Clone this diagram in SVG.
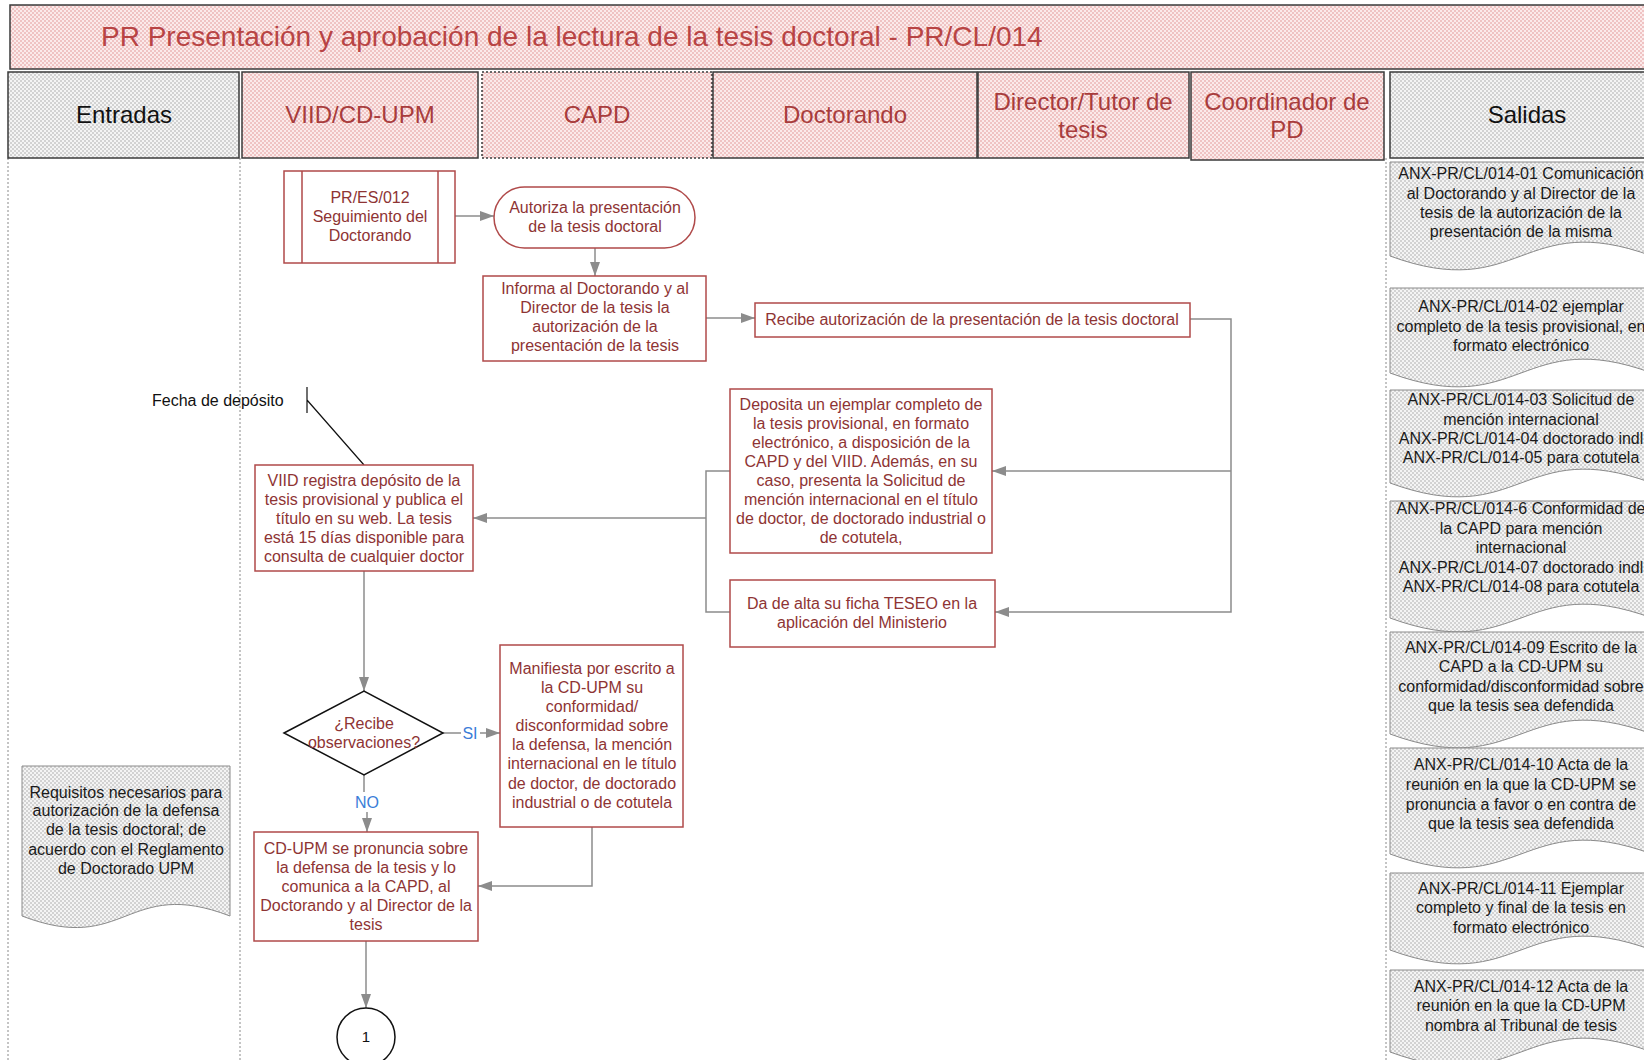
<svg xmlns="http://www.w3.org/2000/svg" width="1644" height="1060" viewBox="0 0 1644 1060">
<style>
text{font-family:"Liberation Sans",Arial,sans-serif}
.t{font-size:16px;fill:#8e3434;text-anchor:middle}
.d{font-size:16px;fill:#1a1a1a;text-anchor:middle}
.h{font-size:24px;fill:#a83c3c;text-anchor:middle}
.hk{font-size:24px;fill:#111;text-anchor:middle}
.box{fill:#fff;stroke:#b04a4a;stroke-width:1.5}
.doc{fill:url(#gr);stroke:#8a8a8a;stroke-width:1}
.hp{fill:url(#pk);stroke:#3a3a3a;stroke-width:1.5}
.hg{fill:url(#gr);stroke:#3a3a3a;stroke-width:1.5}
.lane{stroke:#8a8a8a;stroke-width:1;stroke-dasharray:2 2;fill:none}
.c{fill:none;stroke:#8c8c8c;stroke-width:1.5}
.lbl{font-size:16px;fill:#3b7dd8;text-anchor:middle}
</style>
<defs>
<pattern id="pk" width="4" height="4" patternUnits="userSpaceOnUse"><rect width="4" height="4" fill="#fbeaea"/><rect width="2" height="2" fill="#efc3c3"/><rect x="2" y="2" width="2" height="2" fill="#efc3c3"/></pattern>
<pattern id="gr" width="4" height="4" patternUnits="userSpaceOnUse"><rect width="4" height="4" fill="#f4f4f4"/><rect width="2" height="2" fill="#d2d2d2"/><rect x="2" y="2" width="2" height="2" fill="#d2d2d2"/></pattern>
<marker id="ar" markerUnits="userSpaceOnUse" markerWidth="15" markerHeight="11" refX="14" refY="5" orient="auto"><path d="M0,0 L14,5 L0,10 z" fill="#8c8c8c"/></marker>
</defs>
<rect width="1644" height="1060" fill="#fff"/>
<g id="title"><rect x="10" y="5" width="1640" height="64" class="hp" stroke-width="2"/><text x="101" y="46" font-size="28" fill="#b84444">PR Presentación y aprobación de la lectura de la tesis doctoral - PR/CL/014</text></g>
<g id="lanes">
<path class="lane" d="M8,158 V1060 M240,158 V1060 M1386,158 V1060"/>
</g>
<g id="headers">
<g id="h-entradas"><rect x="8" y="72" width="231" height="86" class="hg"/><text x="124" y="123" class="hk">Entradas</text></g>
<g id="h-viid"><rect x="242" y="72" width="236" height="86" class="hp" stroke="#555"/><text x="360" y="123" class="h">VIID/CD-UPM</text></g>
<g id="h-capd"><rect x="482" y="72" width="230" height="86" class="hp" stroke-dasharray="2 2"/><text x="597" y="123" class="h">CAPD</text></g>
<g id="h-doct"><rect x="713" y="72" width="264" height="86" class="hp"/><text x="845" y="123" class="h">Doctorando</text></g>
<g id="h-dir"><rect x="978" y="72" width="211" height="86" class="hp"/><text x="1083" y="110" class="h">Director/Tutor de</text><text x="1083" y="138" class="h">tesis</text></g>
<g id="h-coord"><rect x="1191" y="72" width="193" height="88" class="hp" stroke-width="2"/><text x="1287" y="110" class="h">Coordinador de</text><text x="1287" y="138" class="h">PD</text></g>
<g id="h-salidas"><rect x="1390" y="72" width="262" height="86" class="hg"/><text x="1527" y="123" class="hk">Salidas</text></g>
</g>
<g id="connectors">
<path class="c" d="M455,216 H494" marker-end="url(#ar)"/>
<path class="c" d="M595,248 V276" marker-end="url(#ar)"/>
<path class="c" d="M706,318 H755" marker-end="url(#ar)"/>
<path class="c" d="M1190,319 H1231 V612 H995" marker-end="url(#ar)"/>
<path class="c" d="M1231,471 H992" marker-end="url(#ar)"/>
<path class="c" d="M730,471 H706 V612 H730"/>
<path class="c" d="M706,518 H473" marker-end="url(#ar)"/>
<path class="c" d="M364,571 V691" marker-end="url(#ar)"/>
<path class="c" d="M443,733 H461"/>
<path class="c" d="M480,733 H500" marker-end="url(#ar)"/>
<path class="c" d="M364,775 V792"/>
<path class="c" d="M367,812 V832" marker-end="url(#ar)"/>
<path class="c" d="M592,827 V886 H478" marker-end="url(#ar)"/>
<path class="c" d="M366,941 V1008" marker-end="url(#ar)"/>
<text x="470" y="739" class="lbl">SI</text>
<text x="367" y="808" class="lbl">NO</text>
<path d="M307,387 V413 M307,400 L364,465" fill="none" stroke="#111" stroke-width="1.2"/>
</g>
<g id="n-fecha"><text x="152" y="406" font-size="16" fill="#111">Fecha de depósito</text></g>
<g id="n-pres012"><rect x="284" y="171" width="171" height="92" class="box"/><path d="M302,171 V263 M438,171 V263" stroke="#b04a4a" stroke-width="1.5"/><text class="t" x="370"><tspan x="370" y="203">PR/ES/012</tspan><tspan x="370" y="222">Seguimiento del</tspan><tspan x="370" y="241">Doctorando</tspan></text></g>
<g id="n-autoriza"><rect x="494" y="187" width="201" height="61" rx="30.5" class="box"/><text class="t"><tspan x="595" y="213">Autoriza la presentación</tspan><tspan x="595" y="232">de la tesis doctoral</tspan></text></g>
<g id="n-informa"><rect x="483" y="276" width="223" height="85" class="box"/><text class="t"><tspan x="595" y="294">Informa al Doctorando y al</tspan><tspan x="595" y="313">Director de la tesis la</tspan><tspan x="595" y="332">autorización de la</tspan><tspan x="595" y="351">presentación de la tesis</tspan></text></g>
<g id="n-recibe"><rect x="755" y="303" width="435" height="34" class="box"/><text class="t" x="972" y="325">Recibe autorización de la presentación de la tesis doctoral</text></g>
<g id="n-deposita"><rect x="730" y="389" width="262" height="164" class="box"/><text class="t"><tspan x="861" y="410">Deposita un ejemplar completo de</tspan><tspan x="861" y="429">la tesis provisional, en formato</tspan><tspan x="861" y="448">electrónico, a disposición de la</tspan><tspan x="861" y="467">CAPD y del VIID. Además, en su</tspan><tspan x="861" y="486">caso, presenta la Solicitud de</tspan><tspan x="861" y="505">mención internacional en el título</tspan><tspan x="861" y="524">de doctor, de doctorado industrial o</tspan><tspan x="861" y="543">de cotutela,</tspan></text></g>
<g id="n-teseo"><rect x="730" y="580" width="265" height="67" class="box"/><text class="t"><tspan x="862" y="609">Da de alta su ficha TESEO en la</tspan><tspan x="862" y="628">aplicación del Ministerio</tspan></text></g>
<g id="n-viid"><rect x="255" y="465" width="218" height="106" class="box"/><text class="t"><tspan x="364" y="486">VIID registra depósito de la</tspan><tspan x="364" y="505">tesis provisional y publica el</tspan><tspan x="364" y="524">título en su web. La tesis</tspan><tspan x="364" y="543">está 15 días disponible para</tspan><tspan x="364" y="562">consulta de cualquier doctor</tspan></text></g>
<g id="n-decision"><polygon points="284,733 364,691 443,733 364,775" fill="#fff" stroke="#111" stroke-width="1.5"/><text class="t"><tspan x="364" y="729">¿Recibe</tspan><tspan x="364" y="748">observaciones?</tspan></text></g>
<g id="n-manifiesta"><rect x="500" y="645" width="183" height="182" class="box"/><text class="t"><tspan x="592" y="674">Manifiesta por escrito a</tspan><tspan x="592" y="693">la CD-UPM su</tspan><tspan x="592" y="712">conformidad/</tspan><tspan x="592" y="731">disconformidad  sobre</tspan><tspan x="592" y="750">la defensa, la mención</tspan><tspan x="592" y="769">internacional en le título</tspan><tspan x="592" y="789">de doctor, de doctorado</tspan><tspan x="592" y="808">industrial o de cotutela</tspan></text></g>
<g id="n-cdupm"><rect x="254" y="832" width="224" height="109" class="box"/><text class="t"><tspan x="366" y="854">CD-UPM se pronuncia sobre</tspan><tspan x="366" y="873">la defensa de la tesis y lo</tspan><tspan x="366" y="892">comunica a la CAPD, al</tspan><tspan x="366" y="911">Doctorando y al Director de la</tspan><tspan x="366" y="930">tesis</tspan></text></g>
<g id="n-conector1"><circle cx="366" cy="1037" r="29" fill="#fff" stroke="#111" stroke-width="1.5"/><text x="366" y="1042" font-size="15" fill="#111" text-anchor="middle">1</text></g>
<g id="n-requisitos"><path class="doc" d="M22,766 H230 V916 C126,876 126,956 22,916 Z"/><text class="d"><tspan x="126" y="798">Requisitos necesarios para</tspan><tspan x="126" y="816">autorización de la defensa</tspan><tspan x="126" y="835">de la tesis doctoral; de</tspan><tspan x="126" y="855">acuerdo con el Reglamento</tspan><tspan x="126" y="874">de Doctorado UPM</tspan></text></g>
<g id="n-anx01"><path class="doc" d="M1390,162 H1652 V256 C1521,208 1521,304 1390,256 Z"/><text class="d"><tspan x="1521" y="179">ANX-PR/CL/014-01 Comunicación</tspan><tspan x="1521" y="199">al  Doctorando y al Director de la</tspan><tspan x="1521" y="218">tesis de la autorización de la</tspan><tspan x="1521" y="237">presentación de la misma</tspan></text></g>
<g id="n-anx02"><path class="doc" d="M1390,288 H1652 V373 C1521,325 1521,421 1390,373 Z"/><text class="d"><tspan x="1521" y="312">ANX-PR/CL/014-02 ejemplar</tspan><tspan x="1521" y="332">completo de la tesis provisional, en</tspan><tspan x="1521" y="351">formato electrónico</tspan></text></g>
<g id="n-anx03"><path class="doc" d="M1390,390 H1652 V483 C1521,435 1521,531 1390,483 Z"/><text class="d"><tspan x="1521" y="405">ANX-PR/CL/014-03 Solicitud de</tspan><tspan x="1521" y="425">mención internacional</tspan><tspan x="1521" y="444">ANX-PR/CL/014-04 doctorado indl</tspan><tspan x="1521" y="463">ANX-PR/CL/014-05 para cotutela</tspan></text></g>
<g id="n-anx06"><path class="doc" d="M1390,501 H1652 V618 C1521,570 1521,666 1390,618 Z"/><text class="d"><tspan x="1521" y="514">ANX-PR/CL/014-6 Conformidad de</tspan><tspan x="1521" y="534">la CAPD para mención</tspan><tspan x="1521" y="553">internacional</tspan><tspan x="1521" y="573">ANX-PR/CL/014-07 doctorado indl</tspan><tspan x="1521" y="592">ANX-PR/CL/014-08 para cotutela</tspan></text></g>
<g id="n-anx09"><path class="doc" d="M1390,632 H1652 V734 C1521,686 1521,782 1390,734 Z"/><text class="d"><tspan x="1521" y="653">ANX-PR/CL/014-09  Escrito de la</tspan><tspan x="1521" y="672">CAPD a la CD-UPM su</tspan><tspan x="1521" y="692">conformidad/disconformidad sobre</tspan><tspan x="1521" y="711">que la tesis sea defendida</tspan></text></g>
<g id="n-anx10"><path class="doc" d="M1390,748 H1652 V854 C1521,806 1521,902 1390,854 Z"/><text class="d"><tspan x="1521" y="770">ANX-PR/CL/014-10 Acta de la</tspan><tspan x="1521" y="790">reunión en la que la CD-UPM se</tspan><tspan x="1521" y="810">pronuncia a favor o en contra de</tspan><tspan x="1521" y="829">que la tesis sea defendida</tspan></text></g>
<g id="n-anx11"><path class="doc" d="M1390,873 H1652 V950 C1521,902 1521,998 1390,950 Z"/><text class="d"><tspan x="1521" y="894">ANX-PR/CL/014-11 Ejemplar</tspan><tspan x="1521" y="913">completo y final de la tesis en</tspan><tspan x="1521" y="933">formato electrónico</tspan></text></g>
<g id="n-anx12"><path class="doc" d="M1390,970 H1652 V1052 C1521,1004 1521,1100 1390,1052 Z"/><text class="d"><tspan x="1521" y="992">ANX-PR/CL/014-12 Acta de la</tspan><tspan x="1521" y="1011">reunión en la que la CD-UPM</tspan><tspan x="1521" y="1031">nombra al Tribunal de tesis</tspan></text></g>
</svg>
